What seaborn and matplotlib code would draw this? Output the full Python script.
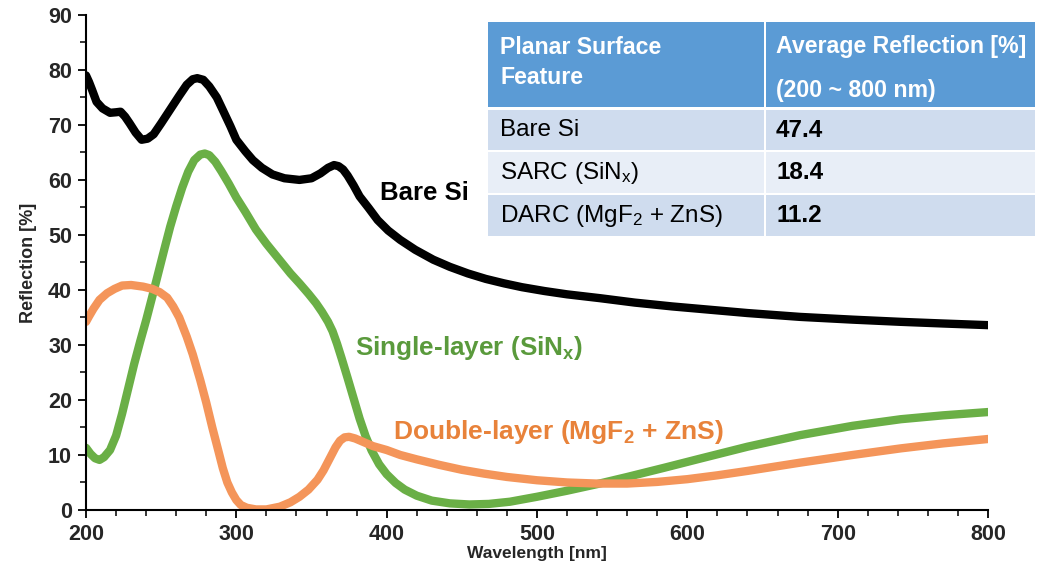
import numpy as np
import pandas as pd
import matplotlib
matplotlib.use("Agg")
import matplotlib.pyplot as plt
import seaborn as sns
from matplotlib.patches import Rectangle

# ---- data ----
bare_wl = [200, 202, 204, 207, 211, 216, 220, 223, 226, 229, 233, 237, 241, 245, 250, 256, 262, 267, 271, 274, 278, 282, 287, 291, 296, 300, 306, 311, 317, 324, 332, 342, 350, 356, 361, 365, 368, 371, 374, 378, 382, 388, 394, 401, 409, 419, 431, 442, 454, 466, 478, 490, 505, 520, 542, 565, 590, 615, 640, 675, 710, 742, 770, 800]
bare_r = [79.0, 77.8, 76.4, 74.2, 73.0, 72.2, 72.3, 72.4, 71.5, 70.3, 68.6, 67.3, 67.5, 68.3, 70.3, 72.8, 75.3, 77.3, 78.3, 78.5, 78.2, 77.0, 75.0, 72.7, 69.8, 67.3, 65.2, 63.6, 62.2, 61.0, 60.3, 60.0, 60.3, 61.2, 62.2, 62.7, 62.5, 61.9, 60.8, 59.0, 57.0, 54.9, 52.7, 50.8, 49.1, 47.3, 45.5, 44.2, 43.0, 42.0, 41.2, 40.5, 39.8, 39.2, 38.5, 37.7, 37.0, 36.4, 35.8, 35.1, 34.6, 34.2, 33.9, 33.6]

single_wl = [200, 203, 206, 209, 212, 216, 220, 224, 228, 232, 236, 240, 244, 248, 252, 256, 260, 264, 268, 272, 276, 279, 282, 286, 290, 295, 300, 306, 313, 320, 328, 336, 342, 348, 353, 357, 361, 364, 367, 370, 374, 378, 382, 386, 390, 395, 400, 406, 412, 420, 430, 442, 455, 468, 482, 500, 520, 540, 560, 585, 608, 640, 675, 710, 742, 770, 800]
single_r = [11.3, 10.2, 9.4, 9.1, 9.6, 10.9, 13.5, 17.5, 22.0, 26.5, 30.6, 34.5, 38.7, 43.0, 47.3, 51.5, 55.2, 58.6, 61.5, 63.6, 64.6, 64.8, 64.5, 63.3, 61.6, 59.3, 56.8, 54.2, 51.0, 48.4, 45.7, 43.0, 41.2, 39.3, 37.6, 36.0, 34.2, 32.5, 30.2, 27.6, 24.0, 20.3, 16.6, 13.4, 10.8, 8.3, 6.5, 4.9, 3.7, 2.6, 1.7, 1.2, 1.0, 1.1, 1.5, 2.4, 3.5, 4.7, 6.0, 7.7, 9.3, 11.5, 13.6, 15.3, 16.5, 17.2, 17.8]

double_wl = [200, 202, 205, 209, 214, 219, 224, 230, 238, 244, 249, 254, 258, 262, 267, 271, 276, 280, 284, 288, 291, 294, 297, 300, 303, 307, 313, 320, 329, 336, 342, 348, 354, 358, 362, 366, 369, 372, 375, 379, 385, 391, 400, 409, 420, 435, 450, 465, 480, 500, 520, 540, 560, 580, 600, 620, 640, 675, 710, 742, 770, 800]
double_r = [34.2, 35.2, 36.6, 38.2, 39.4, 40.2, 40.8, 40.9, 40.6, 40.2, 39.6, 38.6, 37.0, 35.0, 31.5, 28.3, 23.6, 19.5, 15.0, 10.8, 7.6, 5.0, 3.2, 1.8, 0.9, 0.4, 0.1, 0.1, 0.6, 1.4, 2.4, 3.7, 5.5, 7.2, 9.3, 11.4, 12.6, 13.2, 13.3, 13.0, 12.3, 11.6, 10.9, 10.0, 9.2, 8.2, 7.3, 6.6, 6.0, 5.4, 5.0, 4.8, 4.8, 5.1, 5.6, 6.3, 7.1, 8.6, 10.0, 11.2, 12.1, 12.9]

series_names = ["Bare Si", "Single-layer (SiNx)", "Double-layer (MgF2 + ZnS)"]
series_colors = ["#000000", "#6AAF46", "#F4955A"]
label_colors = ["#000000", "#5A9A3C", "#E8823A"]
label_texts = ["Bare Si", "Single-layer (SiN$_\\mathregular{x}$)", "Double-layer (MgF$_\\mathregular{2}$ + ZnS)"]

table_header_left = ["Planar Surface", "Feature"]
table_header_right = ["Average Reflection [%]", "(200 ~ 800 nm)"]
table_features = ["Bare Si", "SARC (SiN$_\\mathregular{x}$)", "DARC (MgF$_\\mathregular{2}$ + ZnS)"]
table_values = ["47.4", "18.4", "11.2"]

x_ticks = [200, 300, 400, 500, 600, 700, 800]
y_ticks = [0, 10, 20, 30, 40, 50, 60, 70, 80, 90]

frames = []
for name, wl, r in zip(series_names, [bare_wl, single_wl, double_wl], [bare_r, single_r, double_r]):
    frames.append(pd.DataFrame({"Wavelength": wl, "Reflection": r, "Series": name}))
df = pd.concat(frames, ignore_index=True)

# ---- plot ----
sns.set_theme(style="ticks")
plt.rcParams["font.family"] = ["Liberation Sans", "DejaVu Sans"]
plt.rcParams["mathtext.fontset"] = "custom"
plt.rcParams["mathtext.rm"] = "Liberation Sans:bold"
plt.rcParams["mathtext.it"] = "Liberation Sans:bold"
plt.rcParams["mathtext.bf"] = "Liberation Sans:bold"

fig = plt.figure(figsize=(10.40, 5.73), dpi=100)
ax = fig.add_axes([0.0827, 0.110, 0.8673, 0.864])

sns.lineplot(data=df, x="Wavelength", y="Reflection", hue="Series",
             palette=dict(zip(series_names, series_colors)), sort=False,
             linewidth=6.0, legend=False, ax=ax,
             solid_capstyle="round", solid_joinstyle="round")

ax.set_xlim(200, 800)
ax.set_ylim(0, 90)
ax.set_xticks(x_ticks)
ax.set_yticks(y_ticks)
ax.set_xticks(np.arange(200, 801, 20), minor=True)
ax.set_yticks(np.arange(0, 91, 5), minor=True)
ax.tick_params(axis="both", which="major", length=6, width=1.3, labelsize=15.5, direction="out",
               color="black", pad=4)
ax.tick_params(axis="both", which="minor", length=4, width=1.1, direction="out", color="black")
for lab in ax.get_xticklabels() + ax.get_yticklabels():
    lab.set_fontweight("bold")
for s in ["top", "right"]:
    ax.spines[s].set_visible(False)
for s in ["left", "bottom"]:
    ax.spines[s].set_linewidth(1.5)
    ax.spines[s].set_color("black")
ax.set_xlabel("Wavelength [nm]", fontsize=12.5, fontweight="bold", labelpad=1)
ax.set_ylabel("Reflection [%]", fontsize=13, fontweight="bold", labelpad=8)

# curve labels
ax.text(395.5, 57.6, label_texts[0], color=label_colors[0], fontsize=18.5, fontweight="bold", va="center", ha="left")
ax.text(379, 29.5, label_texts[1], color=label_colors[1], fontsize=18.8, fontweight="bold", va="center", ha="left")
ax.text(404, 14.2, label_texts[2], color=label_colors[2], fontsize=19, fontweight="bold", va="center", ha="left")

# table
W, H = 1040.0, 573.0
col_x = [488, 766]
col_w = [276, 269]
row_y = [22, 110, 152, 195]
row_h = [85, 40, 41, 41]
row_colors = ["#5B9BD5", "#CFDCEE", "#E8EEF7", "#CFDCEE"]
for ri in range(4):
    for ci in range(2):
        x0, y0 = col_x[ci], row_y[ri]
        fig.patches.append(Rectangle((x0 / W, 1 - (y0 + row_h[ri]) / H), col_w[ci] / W, row_h[ri] / H,
                                     transform=fig.transFigure, facecolor=row_colors[ri],
                                     edgecolor="none", zorder=0))
fig.text(500 / W, 1 - 47 / H, table_header_left[0], color="white", fontsize=16.7, fontweight="bold",
         va="center", ha="left")
fig.text(500 / W, 1 - 78 / H, table_header_left[1], color="white", fontsize=16.7, fontweight="bold",
         va="center", ha="left")
fig.text(776 / W, 1 - 47 / H, table_header_right[0], color="white", fontsize=16.7, fontweight="bold",
         va="center", ha="left")
fig.text(776 / W, 1 - 91 / H, table_header_right[1], color="white", fontsize=16.7, fontweight="bold",
         va="center", ha="left")
for i in range(3):
    yc = 1 - (row_y[i + 1] + row_h[i + 1] / 2) / H
    fig.text(500 / W, yc, table_features[i], color="black", fontsize=17.5, va="center", ha="left")
    fig.text(776 / W, yc, table_values[i], color="black", fontsize=17.5, fontweight="bold", va="center", ha="left")

fig.savefig("out.png", dpi=100)
